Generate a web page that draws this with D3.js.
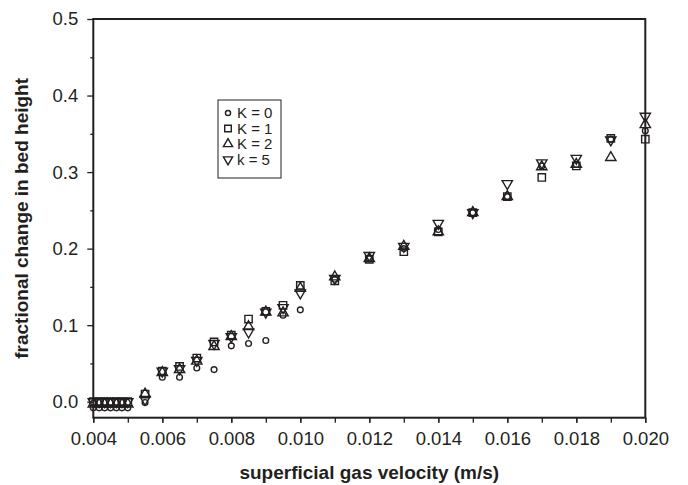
<!DOCTYPE html>
<html>
<head>
<meta charset="utf-8">
<script src="https://cdn.jsdelivr.net/npm/d3@7"></script>
<style>
  body { margin: 0; background: #fff; }
  text { font-family: "Liberation Sans", Arial, sans-serif; fill: #231f20; }
</style>
</head>
<body>
<svg id="chart" width="688" height="485"></svg>
<script>
// superficial gas velocity (m/s)
var velocity = [0.004, 0.00417, 0.00433, 0.0045, 0.00467, 0.00483, 0.005,
                0.0055, 0.006, 0.0065, 0.007, 0.0075, 0.008, 0.0085, 0.009, 0.0095,
                0.010, 0.011, 0.012, 0.013, 0.014, 0.015, 0.016, 0.017, 0.018, 0.019, 0.020];

// fractional change in bed height, one list per K
var k0 = [-0.008, -0.008, -0.008, -0.008, -0.008, -0.008, -0.008,
          -0.001, 0.032, 0.032, 0.044, 0.042, 0.073, 0.076, 0.080, 0.113,
          0.120, 0.160, 0.187, 0.200, 0.225, 0.247, 0.268, 0.308, 0.310, 0.343, 0.354];
var k1 = [0.000, 0.000, 0.000, 0.000, 0.000, 0.000, 0.000,
          0.010, 0.040, 0.046, 0.057, 0.078, 0.087, 0.108, 0.118, 0.126,
          0.152, 0.158, 0.186, 0.196, 0.222, 0.247, 0.268, 0.293, 0.308, 0.344, 0.343];
var k2 = [-0.003, -0.003, -0.003, -0.003, -0.003, -0.003, -0.003,
          0.010, 0.038, 0.042, 0.053, 0.072, 0.085, 0.098, 0.117, 0.116,
          0.148, 0.163, 0.187, 0.203, 0.222, 0.247, 0.268, 0.307, 0.310, 0.319, 0.362];
var k5 = [0.000, 0.000, 0.000, 0.000, 0.000, 0.000, 0.000,
          0.003, 0.040, 0.043, 0.054, 0.076, 0.085, 0.091, 0.117, 0.123,
          0.142, 0.161, 0.191, 0.203, 0.233, 0.247, 0.285, 0.312, 0.318, 0.342, 0.373];

var seriesNames = ["K = 0", "K = 1", "K = 2", "k = 5"];
var xTicks = [0.004, 0.006, 0.008, 0.010, 0.012, 0.014, 0.016, 0.018, 0.020];
var yTicks = [0.0, 0.1, 0.2, 0.3, 0.4, 0.5];

var ink = "#231f20";
var svg = d3.select("#chart");
var pLeft = 93.3, pRight = 645.3, pTop = 19, pBottom = 417.7;

var x = d3.scaleLinear().domain([0.004, 0.020]).range([pLeft, pRight]);
var y = d3.scaleLinear().domain([0.0, 0.5]).range([401.7, pTop]);

// marker shapes: circle, square, triangle up, triangle down
var shapes = [
  { type: d3.symbolCircle, size: 26, rot: 0 },
  { type: d3.symbolSquare, size: 54, rot: 0 },
  { type: d3.symbolTriangle, size: 46, rot: 0 },
  { type: d3.symbolTriangle, size: 46, rot: 180 }
];

var series = [k0, k1, k2, k5].map(function(vals, i) {
  return { name: seriesNames[i], shape: shapes[i],
           points: vals.map(function(v, j) { return [velocity[j], v]; }) };
});

// axes, minor ticks first then labelled ones
var xMinor = d3.range(0.004, 0.02001, 0.001);
var yMinor = d3.range(0.05, 0.5, 0.1);

var gx = svg.append("g").attr("transform", "translate(0," + pBottom + ")");
gx.call(d3.axisBottom(x).tickValues(xMinor).tickSize(5).tickFormat(""));
gx.append("g").call(d3.axisBottom(x).tickValues(xTicks).tickSize(5).tickPadding(9)
  .tickFormat(d3.format(".3f")));
gx.selectAll("text").style("font-size", "18.5px").attr("fill", ink);

var gy = svg.append("g").attr("transform", "translate(" + pLeft + ",0)");
gy.call(d3.axisLeft(y).tickValues(yMinor).tickSize(3).tickFormat(""));
gy.append("g").call(d3.axisLeft(y).tickValues(yTicks).tickSize(6).tickPadding(9)
  .tickFormat(d3.format(".1f")));
gy.selectAll("text").style("font-size", "18.5px").attr("fill", ink);

svg.selectAll(".domain").remove();
svg.selectAll(".tick line").attr("stroke", ink).attr("stroke-width", 1.3);

// frame
svg.append("rect")
  .attr("x", pLeft).attr("y", pTop)
  .attr("width", pRight - pLeft).attr("height", pBottom - pTop)
  .attr("fill", "none").attr("stroke", ink).attr("stroke-width", 2);

// points
series.forEach(function(s) {
  svg.append("g").selectAll("path")
    .data(s.points)
    .join("path")
    .attr("d", d3.symbol().type(s.shape.type).size(s.shape.size))
    .attr("transform", function(d) {
      return "translate(" + x(d[0]) + "," + y(d[1]) + ") rotate(" + s.shape.rot + ")";
    })
    .attr("fill", "none")
    .attr("stroke", ink)
    .attr("stroke-width", 1.4);
});

// legend
var lg = svg.append("g").attr("transform", "translate(218,100)");
lg.append("rect").attr("width", 63).attr("height", 78)
  .attr("fill", "#fff").attr("stroke", ink).attr("stroke-width", 1);
series.forEach(function(s, i) {
  var cy = 13 + i * 15.5;
  lg.append("path")
    .attr("d", d3.symbol().type(s.shape.type).size(s.shape.size * 0.8))
    .attr("transform", "translate(10," + cy + ") rotate(" + s.shape.rot + ")")
    .attr("fill", "none").attr("stroke", ink).attr("stroke-width", 1.4);
  lg.append("text").attr("x", 19).attr("y", cy + 5)
    .style("font-size", "15px").text(s.name);
});

// axis titles
svg.append("text")
  .attr("x", (pLeft + pRight) / 2).attr("y", 479)
  .attr("text-anchor", "middle")
  .style("font-size", "19px").style("font-weight", "bold")
  .text("superficial gas velocity (m/s)");

svg.append("text")
  .attr("transform", "translate(28," + ((pTop + pBottom) / 2) + ") rotate(-90)")
  .attr("text-anchor", "middle")
  .style("font-size", "19px").style("font-weight", "bold")
  .text("fractional change in bed height");
</script>
</body>
</html>
